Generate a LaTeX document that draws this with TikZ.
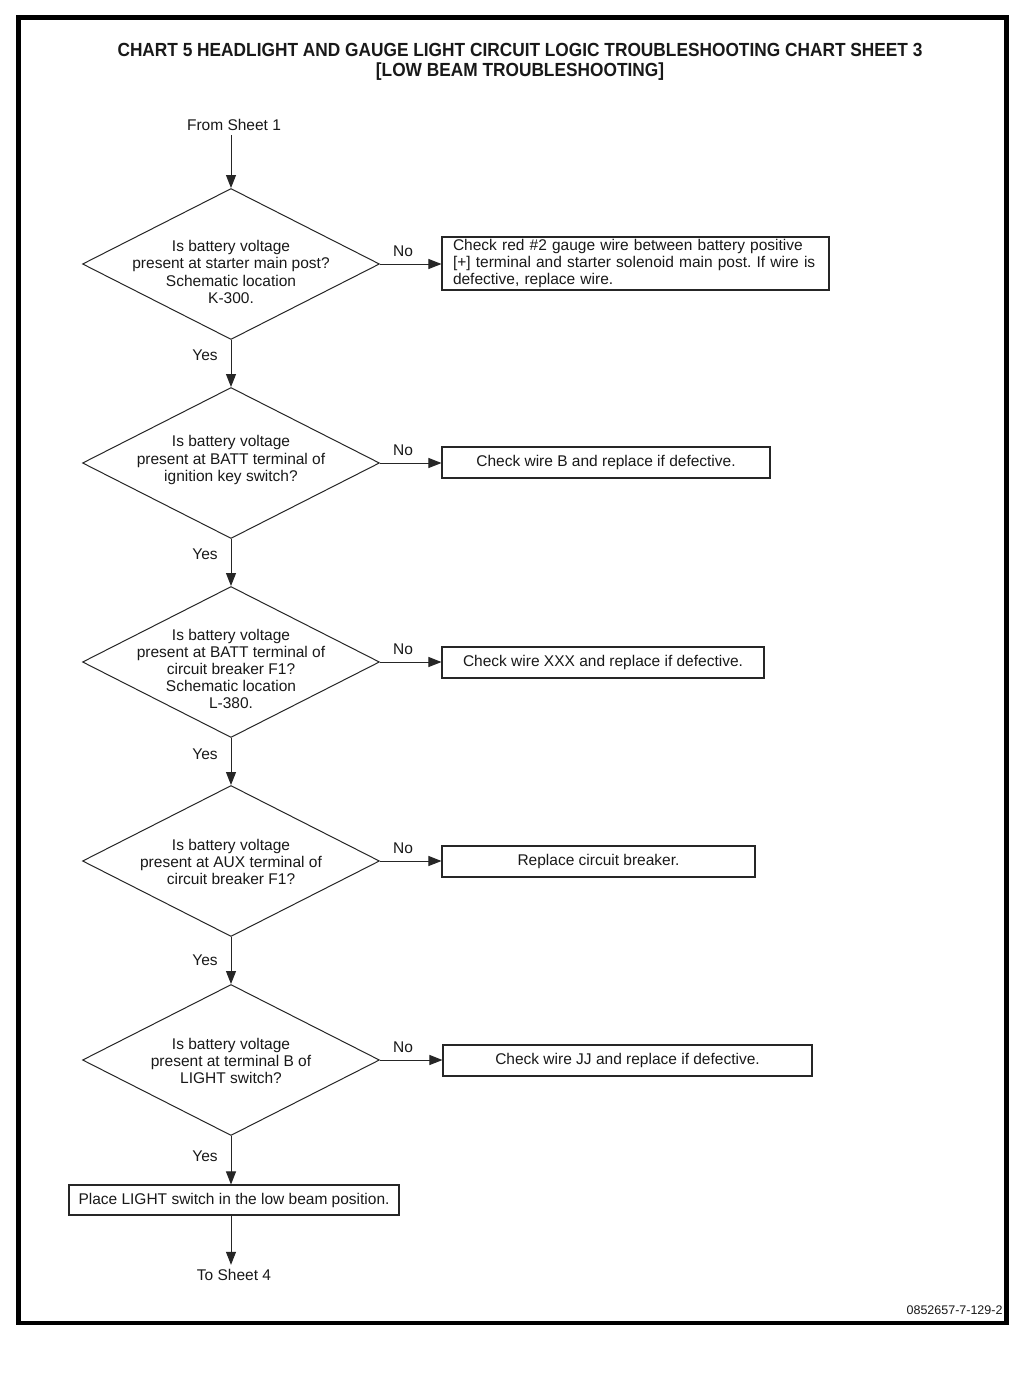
\documentclass[tikz,border=0pt]{standalone}
\usepackage{fontspec}
\setmainfont{Liberation Sans}
\usetikzlibrary{shapes.geometric,arrows.meta}
\frenchspacing
\begin{document}
\begin{tikzpicture}[x=1pt,y=-1pt,
  font=\fontsize{15.5}{17.2}\selectfont,
  line width=1pt, draw=black!85, text=black!90,
  decision/.style={diamond, draw, minimum width=297pt, minimum height=151pt, inner sep=0pt},
  qtext/.style={align=center, inner sep=0pt},
  actbox/.style={draw, rectangle, inner sep=0pt, minimum height=31pt, line width=1.1pt},
  arr/.style={-{Triangle[length=13pt,width=10pt]}},
  lbl/.style={inner sep=0pt}]
\useasboundingbox (0,0) rectangle (1024,1378);
\fill[white] (0,0) rectangle (1024,1378);
% frame
\draw[line width=4.5pt, black] (18.5,17.5) rectangle (1006.5,1323);
% title
\node[lbl, align=center, font=\bfseries\fontsize{19}{19.5}\selectfont] (title) at (520,62)
  {\scalebox{0.91}[1]{CHART 5 HEADLIGHT AND GAUGE LIGHT CIRCUIT LOGIC TROUBLESHOOTING CHART SHEET 3}\\
   \scalebox{0.91}[1]{[LOW BEAM TROUBLESHOOTING]}};

% start
\node[inner sep=4pt] (from) at (234,125) {From Sheet 1};

% decisions
\node[decision] (d1) at (231,264) {};
\node[qtext] (d1t) at (231,272) {Is battery voltage\\present at starter main post?\\Schematic location\\K-300.};
\node[decision] (d2) at (231,463) {};
\node[qtext] (d2t) at (231,460) {Is battery voltage\\present at BATT terminal of\\ignition key switch?};
\node[decision] (d3) at (231,662) {};
\node[qtext] (d3t) at (231,669) {Is battery voltage\\present at BATT terminal of\\circuit breaker F1?\\Schematic location\\L-380.};
\node[decision] (d4) at (231,861) {};
\node[qtext] (d4t) at (231,862) {Is battery voltage\\present at AUX terminal of\\circuit breaker F1?};
\node[decision] (d5) at (231,1060) {};
\node[qtext] (d5t) at (231,1061) {Is battery voltage\\present at terminal B of\\LIGHT switch?};

% action boxes
\node[actbox, minimum width=387pt, minimum height=53pt, text width=365pt, inner xsep=11pt, align=left] (b1) at (635.5,263.5)
  {\raisebox{-4pt}{\parbox{365pt}{Check red \#2 gauge wire between battery positive\\{[+]} terminal and starter solenoid main post. If wire is\\defective, replace wire.}}};
\node[actbox, minimum width=328pt] (b2) at (606,462.5) {Check wire B and replace if defective.};
\node[actbox, minimum width=322pt] (b3) at (603,662.5) {Check wire XXX and replace if defective.};
\node[actbox, minimum width=313pt] (b4) at (598.5,861.5) {Replace circuit breaker.};
\node[actbox, minimum width=369pt] (b5) at (627.5,1060.5) {Check wire JJ and replace if defective.};
\node[actbox, minimum width=330pt, minimum height=30pt] (b6) at (234,1200) {Place LIGHT switch in the low beam position.};

\node[inner sep=4pt] (to) at (234,1275) {To Sheet 4};

% connectors
\draw[arr] (from.south -| d1.north) -- (d1.north);
\draw[arr] (d1.south) -- (d2.north);
\draw[arr] (d2.south) -- (d3.north);
\draw[arr] (d3.south) -- (d4.north);
\draw[arr] (d4.south) -- (d5.north);
\draw[arr] (d5.south) -- (d5.south |- b6.north);
\draw[arr] (d5.south |- b6.south) -- (d5.south |- to.north);
\draw[arr] (d1.east) -- (d1.east -| b1.west);
\draw[arr] (d2.east) -- (d2.east -| b2.west);
\draw[arr] (d3.east) -- (d3.east -| b3.west);
\draw[arr] (d4.east) -- (d4.east -| b4.west);
\draw[arr] (d5.east) -- (d5.east -| b5.west);

% labels
\node[lbl] (n1) at (403,251) {No};
\node[lbl] (n2) at (403,450) {No};
\node[lbl] (n3) at (403,649) {No};
\node[lbl] (n4) at (403,848) {No};
\node[lbl] (n5) at (403,1047) {No};
\node[lbl] (y1) at (205,355) {Yes};
\node[lbl] (y2) at (205,554) {Yes};
\node[lbl] (y3) at (205,754) {Yes};
\node[lbl] (y4) at (205,960) {Yes};
\node[lbl] (y5) at (205,1156) {Yes};

% drawing id
\node[lbl, anchor=base east, font=\fontsize{12.5}{14}\selectfont] (id) at (1003,1314) {0852657-7-129-2};

% page footer (cut off at the edge, as in the source)
\begin{scope}
\clip (0,1360) rectangle (1024,1378);
\node[lbl, anchor=base west, font=\bfseries\fontsize{19}{22}\selectfont] (pg) at (17,1392) {7-130};
\node[lbl, anchor=base east, font=\bfseries\fontsize{19}{22}\selectfont] (dt) at (1016,1392) {05/01};
\end{scope}
\end{tikzpicture}
\end{document}
